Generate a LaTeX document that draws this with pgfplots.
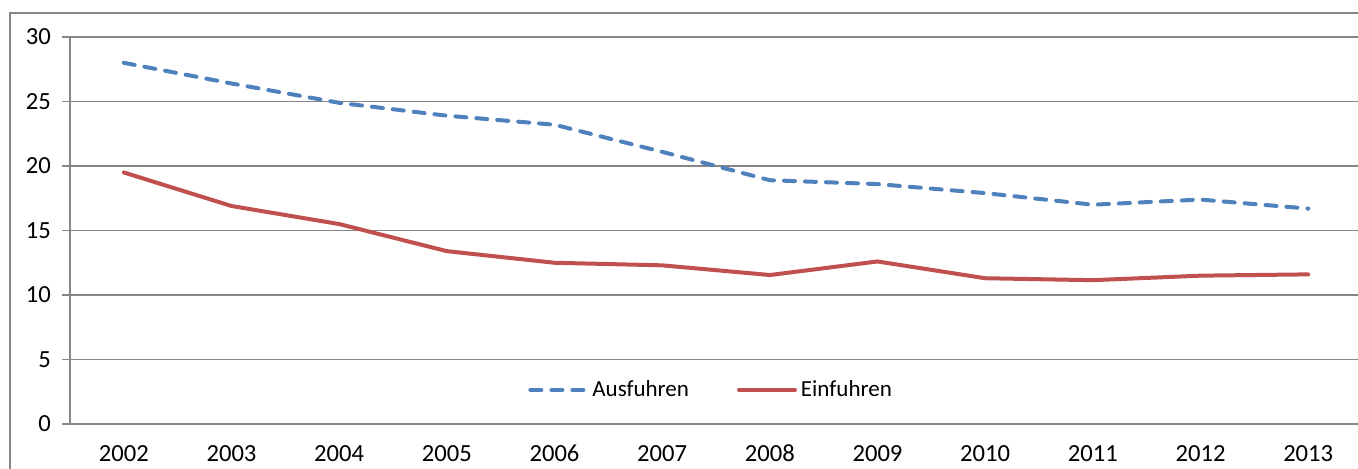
\documentclass[border=0pt]{standalone}
\usepackage{fontspec}
\setmainfont{Carlito}
\usepackage{pgfplots}
\pgfplotsset{compat=1.18}
\definecolor{ablue}{HTML}{4F81BD}
\definecolor{ered}{HTML}{C0504D}
\definecolor{gridg}{HTML}{868686}
\begin{document}
\begin{tikzpicture}
\path[use as bounding box, clip] (0,0) rectangle (679pt,-234pt);
\draw[gridg, line width=0.6pt] (5pt,-300pt) -- (5pt,-6.5pt) -- (900pt,-6.5pt);
\begin{axis}[
  at={(35pt,-212pt)}, anchor=south west,
  scale only axis, width=646pt, height=193.5pt,
  xmin=-0.5, xmax=11.5, ymin=0, ymax=30,
  xtick={0,...,11},
  xticklabels={2002,2003,2004,2005,2006,2007,2008,2009,2010,2011,2012,2013},
  extra x ticks={0.5,1.5,...,10.5},
  extra x tick labels={},
  extra x tick style={major tick length=4pt, tick style={gridg, line width=0.6pt}},
  x tick style={draw=none},
  ytick={0,5,...,30},
  ymajorgrids, grid style={gridg, line width=0.6pt},
  axis x line*=bottom, axis y line*=left,
  axis line style={gridg, line width=0.8pt, -},
  y tick style={gridg, line width=0.6pt},
  tick align=outside, major tick length=4pt,
  ticklabel style={font=\fontsize{12.3}{14}\selectfont, text=black},
  /pgf/number format/assume math mode=true,
  yticklabel style={xshift=-2pt},
  xticklabel style={yshift=-2.5pt, text height=8.5pt, text depth=0pt, anchor=north},
  legend columns=2,
  legend style={draw=none, fill=none, at={(0.497,0.088)}, anchor=center,
    font=\fontsize{11.5}{13}\selectfont, /tikz/every even column/.append style={column sep=22pt}},
  legend image code/.code={\draw[#1] (0pt,0pt) -- (28pt,0pt);},
]
\addplot[ablue, line width=2pt, line cap=round, dash pattern=on 5.5pt off 5pt] coordinates {
(0,28.0) (1,26.4) (2,24.9) (3,23.9) (4,23.2) (5,21.1) (6,18.9) (7,18.6) (8,17.9) (9,17.0) (10,17.4) (11,16.7)};
\addlegendentry{Ausfuhren}
\addplot[ered, line width=2pt, line cap=round] coordinates {
(0,19.5) (1,16.9) (2,15.5) (3,13.4) (4,12.5) (5,12.3) (6,11.55) (7,12.6) (8,11.3) (9,11.15) (10,11.5) (11,11.6)};
\addlegendentry{Einfuhren}
\end{axis}
\end{tikzpicture}
\end{document}
